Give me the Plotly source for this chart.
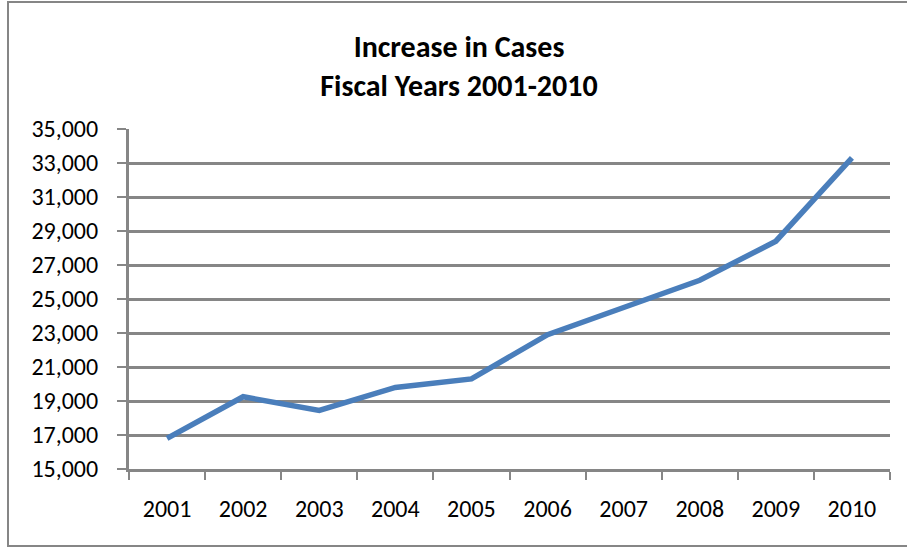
import plotly.graph_objects as go

years = ["2001", "2002", "2003", "2004", "2005", "2006", "2007", "2008", "2009", "2010"]
cases = [16800, 19250, 18450, 19800, 20300, 22900, 24500, 26100, 28400, 33300]

W, H = 907, 548
L, R, T, B = 129, 17, 129, 79
pw, ph = W - L - R, H - T - B

fig = go.Figure(go.Scatter(
    x=years, y=cases, mode="lines",
    line=dict(color="#4A7EBB", width=5.5),
    hoverinfo="x+y",
))

font_family = "Carlito, Lato, Open Sans, sans-serif"

fig.update_layout(
    width=W, height=H,
    margin=dict(l=L, r=R, t=T, b=B),
    paper_bgcolor="white", plot_bgcolor="white",
    showlegend=False,
    title=dict(
        text="<b>Increase in Cases</b><br><b>Fiscal Years 2001-2010</b>",
        x=459 / W, xanchor="center", xref="container",
        y=1 - 57 / H, yanchor="middle", yref="container",
        font=dict(family=font_family, size=30, color="black"),
    ),
    font=dict(family=font_family, size=24, color="black"),
    xaxis=dict(
        type="category",
        range=[-0.5, 9.5],
        showgrid=False,
        showline=True, linecolor="#868686", linewidth=3,
        ticks="outside", tickson="boundaries", ticklen=8, tickwidth=2, tickcolor="#868686",
        tickfont=dict(family=font_family, size=24, color="black"),
        ticklabelstandoff=16,
    ),
    yaxis=dict(
        range=[15000, 35000], dtick=2000, tick0=15000,
        tickformat=",",
        showgrid=True, gridcolor="#868686", gridwidth=3,
        showline=True, linecolor="#868686", linewidth=3,
        ticks="outside", ticklen=9, tickwidth=2, tickcolor="#868686",
        tickfont=dict(family=font_family, size=24, color="black"),
        ticklabelstandoff=14,
        zeroline=False,
    ),
    shapes=[dict(
        type="rect", xref="paper", yref="paper",
        x0=(8 - L) / pw, x1=(W + 5 - L) / pw,
        y0=-(546 - (H - B)) / ph, y1=1 + (T - 2) / ph,
        line=dict(color="#868686", width=2), fillcolor="rgba(0,0,0,0)",
        layer="below",
    )],
)

fig.write_html("out.html")
